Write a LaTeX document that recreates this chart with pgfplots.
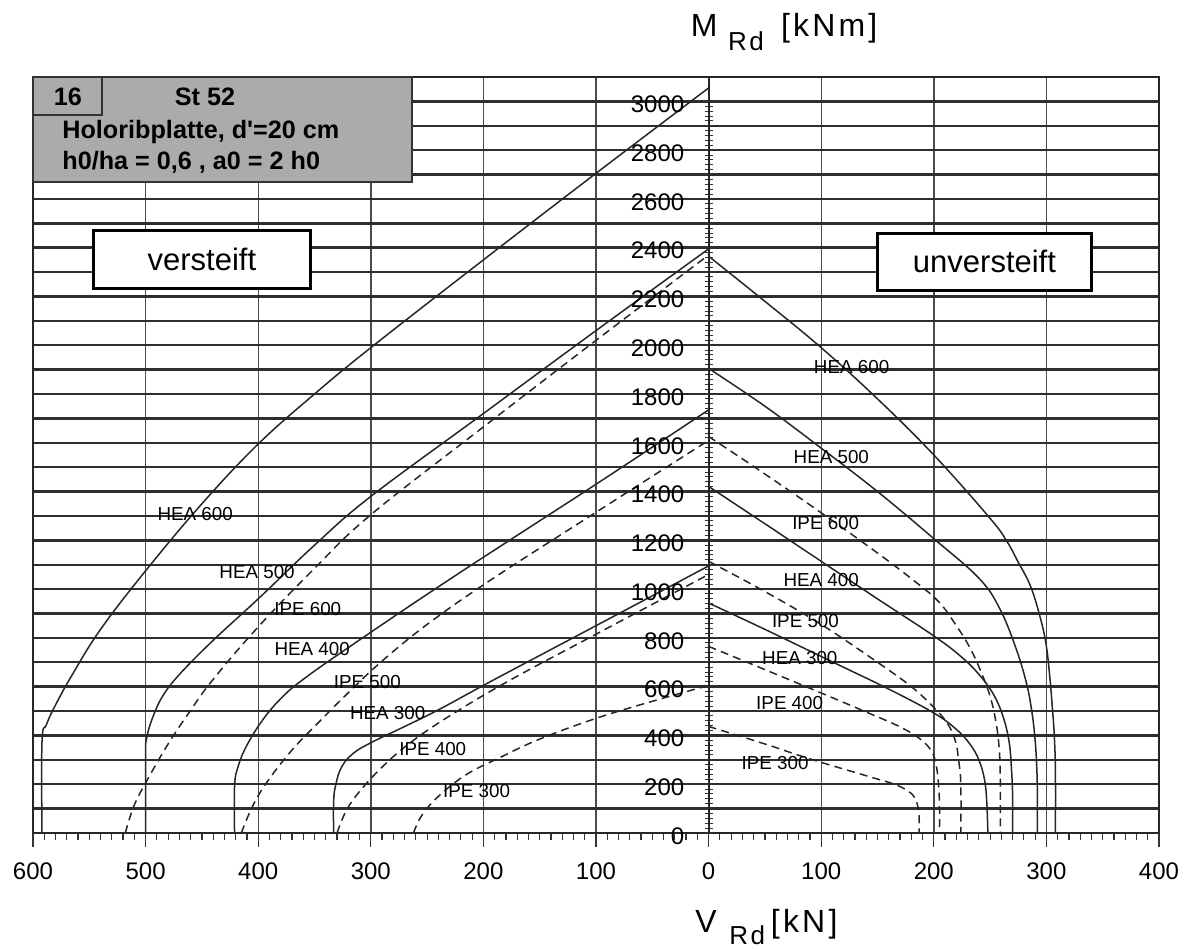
\documentclass[border=0pt]{standalone}
\usepackage{pgfplots}
\pgfplotsset{compat=1.18}
\usepackage{fontspec}
\setmainfont{Liberation Sans}
\usetikzlibrary{calc}

\pgfplotsset{
  curve/.style={black!85, line width=0.75pt, smooth, tension=0.65, no marks},
  dcurve/.style={curve, dash pattern=on 4pt off 2.6pt},
}
\tikzset{clab/.style={font=\fontsize{9.4}{10}\selectfont, inner sep=0pt}}
\newcommand{\tfont}{\fontsize{16}{17}\selectfont\addfontfeatures{LetterSpace=10}}
\newcommand{\sfont}{\fontsize{13}{14}\selectfont\addfontfeatures{LetterSpace=10}}

\begin{document}
\begin{tikzpicture}
\begin{axis}[
  name=ax,
  width=563pt, height=378pt, scale only axis,
  xmin=-600, xmax=400, ymin=0, ymax=3100,
  clip=false,
  xtick={-600,-500,...,400},
  xticklabels={600,500,400,300,200,100,0,100,200,300,400},
  minor x tick num=9,
  ytick={0,100,...,3100},
  yticklabels={},
  grid=major,
  x grid style={black!70, line width=0.7pt},
  y grid style={black!82, line width=1.2pt},
  axis line style={black!85, line width=1.1pt},
  tick align=outside,
  major tick length=7pt, minor tick length=3.5pt,
  xtick pos=left,
  ytick style={draw=none},
  xtick style={black!80, line width=0.6pt},
  xticklabel style={font=\fontsize{12}{12}\selectfont, anchor=base, inner sep=0pt, yshift=-16.5pt},
]
% ---------- versteift (left) ----------
\addplot[curve] coordinates {(-592,0) (-592,375) (-588,445) (-580,525) (-565,650) (-540,835) (-500,1075) (-450,1350) (-400,1595) (-350,1800) (-300,1990) (-200,2350) (-100,2705) (0,3055)};
\addplot[curve] coordinates {(-500,0) (-500,320) (-499,390) (-494,470) (-485,560) (-470,650) (-440,790) (-400,960) (-350,1180) (-300,1380) (-200,1720) (-100,2060) (0,2395)};
\addplot[dcurve] coordinates {(-518,0) (-510,115) (-497,230) (-480,365) (-462,490) (-440,630) (-400,845) (-350,1085) (-300,1305) (-200,1665) (-100,2020) (0,2370)};
\addplot[curve] coordinates {(-421,0) (-421,190) (-418,270) (-410,360) (-395,470) (-378,560) (-360,630) (-320,760) (-230,1040) (-100,1430) (0,1735)};
\addplot[dcurve] coordinates {(-415,0) (-405,110) (-392,210) (-370,340) (-345,460) (-320,575) (-290,705) (-250,855) (-194,1036) (-100,1315) (0,1610)};
\addplot[curve] coordinates {(-333,0) (-333,131) (-331,200) (-326,270) (-316,325) (-300,370) (-272,432) (-240,505) (-192,625) (-100,850) (0,1095)};
\addplot[dcurve] coordinates {(-330,0) (-322,90) (-310,170) (-290,270) (-265,370) (-230,480) (-177,625) (-100,815) (0,1060)};
\addplot[dcurve] coordinates {(-262,0) (-255,70) (-240,150) (-215,240) (-185,310) (-150,385) (-100,470) (-50,540) (0,605)};
% ---------- unversteift (right) ----------
\addplot[curve] coordinates {(0,2365) (50,2180) (100,1990) (150,1780) (200,1550) (250,1290) (265,1195) (275,1110) (286,1011) (295,875) (300,765) (303,640) (305,530) (307,400) (308,250) (308,0)};
\addplot[curve] coordinates {(0,1905) (50,1750) (98,1585) (150,1400) (201,1203) (240,1045) (258,925) (272,770) (282,620) (287,500) (290,380) (291.5,260) (292,150) (292,0)};
\addplot[dcurve] coordinates {(0,1626) (50,1472) (100,1313) (150,1148) (185,1025) (205,945) (220,850) (232,760) (242,660) (250,560) (255,460) (258,350) (259,230) (259,0)};
\addplot[curve] coordinates {(0,1421) (50,1268) (100,1114) (150,960) (200,808) (225,720) (242,640) (254,560) (262,470) (267,370) (269,260) (270,150) (270,0)};
\addplot[dcurve] coordinates {(0,1114) (50,990) (100,855) (150,700) (180,600) (200,515) (212,450) (219,380) (222,300) (224,200) (224,0)};
\addplot[curve] coordinates {(0,943) (50,835) (112,697) (160,590) (200,492) (220,425) (232,365) (240,300) (245,220) (247,130) (248,0)};
\addplot[dcurve] coordinates {(0,765) (50,670) (100,574) (142,492) (170,435) (188,385) (198,335) (202,280) (204,210) (205,120) (205,0)};
\addplot[dcurve] coordinates {(0,437) (50,365) (92,301) (142,232) (165,200) (177,172) (183,145) (186,105) (187,60) (187,0)};
% ---------- curve labels ----------
\node[clab] at (axis cs:-456,1307) {HEA 600};
\node[clab] at (axis cs:-401,1069) {HEA 500};
\node[clab] at (axis cs:-356,917) {IPE 600};
\node[clab] at (axis cs:-352,756) {HEA 400};
\node[clab] at (axis cs:-303,621) {IPE 500};
\node[clab] at (axis cs:-285,493) {HEA 300};
\node[clab] at (axis cs:-245,345) {IPE 400};
\node[clab] at (axis cs:-206,173) {IPE 300};
\node[clab] at (axis cs:127,1911) {HEA 600};
\node[clab] at (axis cs:109,1541) {HEA 500};
\node[clab] at (axis cs:104,1270) {IPE 600};
\node[clab] at (axis cs:100,1036) {HEA 400};
\node[clab] at (axis cs:86,871) {IPE 500};
\node[clab] at (axis cs:81,719) {HEA 300};
\node[clab] at (axis cs:72,534) {IPE 400};
\node[clab] at (axis cs:59,288) {IPE 300};
% ---------- boxes ----------
\node[draw=black, line width=1.5pt, fill=white, minimum width=108.5pt, minimum height=29pt, inner sep=0pt, font=\fontsize{15.5}{16}\selectfont] at (axis cs:-450,2353) {versteift};
\node[draw=black, line width=1.5pt, fill=white, minimum width=107pt, minimum height=28.5pt, inner sep=0pt, font=\fontsize{15.5}{16}\selectfont] at (axis cs:245,2343) {unversteift};
% ---------- axis titles ----------
\node[anchor=base west, inner sep=0pt, font=\tfont] at (axis cs:-16,3264) {M};
\node[anchor=base west, inner sep=0pt, font=\sfont] at (axis cs:17,3210) {Rd};
\node[anchor=base west, inner sep=0pt, font=\tfont] at (axis cs:64,3264) {[kNm]};
\node[anchor=base west, inner sep=0pt, font=\tfont] at (axis cs:-12,-406) {V};
\node[anchor=base west, inner sep=0pt, font=\sfont] at (axis cs:18,-459) {Rd};
\node[anchor=base west, inner sep=0pt, font=\tfont] at (axis cs:55,-406) {[kN]};
\end{axis}
% ---------- central M axis ----------
\begin{axis}[
  width=563pt, height=378pt, scale only axis,
  xmin=-600, xmax=400, ymin=0, ymax=3100,
  axis x line=none, axis y line=center,
  y axis line style={-, black!85, line width=1.0pt},
  hide obscured y ticks=false,
  ytick={0,200,...,3000},
  yticklabels={0,200,400,600,800,1000,1200,1400,1600,1800,2000,2200,2400,2600,2800,3000},
  minor y tick num=9,
  tick align=center,
  major tick length=4pt, minor tick length=4pt,
  ytick style={black!80, line width=0.5pt},
  yticklabel style={font=\fontsize{12}{12}\selectfont, anchor=east, inner sep=0pt, xshift=-10pt, yshift=-1.5pt},
]
\addplot[draw=none] coordinates {(0,0)};
\end{axis}
% ---------- info box ----------
\filldraw[fill=black!33, draw=black!80, line width=0.7pt] (ax.north west) rectangle ++(189.5pt,-52.5pt);
\draw[black!80, line width=0.7pt] ($(ax.north west)+(34.5pt,0)$) -- ++(0,-19pt) -- ++(-34.5pt,0);
\node[font=\bfseries\fontsize{12.6}{13}\selectfont] at ($(ax.north west)+(17.5pt,-10pt)$) {16};
\node[font=\bfseries\fontsize{12.6}{13}\selectfont] at ($(ax.north west)+(86pt,-10pt)$) {St 52};
\node[anchor=west, inner sep=0pt, font=\bfseries\fontsize{12.6}{13}\selectfont] at ($(ax.north west)+(14.5pt,-27.5pt)$) {Holoribplatte, d\textquotesingle=20 cm};
\node[anchor=west, inner sep=0pt, font=\bfseries\fontsize{12.6}{13}\selectfont] at ($(ax.north west)+(14.5pt,-42.5pt)$) {h0/ha = 0,6 , a0 = 2 h0};
% ---------- bounding box ----------
\path ($(ax.south west)+(-16.5pt,-58.5pt)$) rectangle ($(ax.north east)+(18pt,38.5pt)$);
\end{tikzpicture}
\end{document}
